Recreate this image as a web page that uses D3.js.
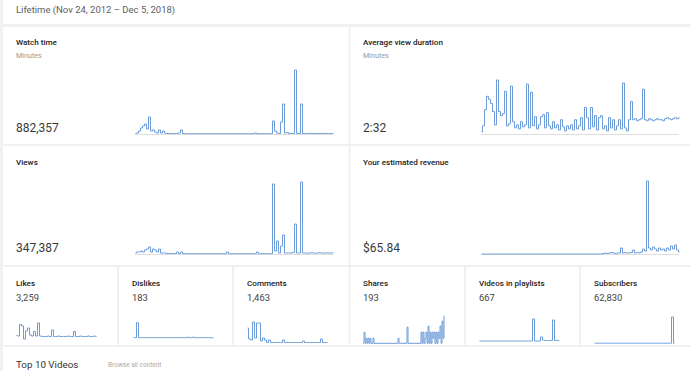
<!DOCTYPE html>
<html><head><meta charset="utf-8">
<script src="https://cdn.jsdelivr.net/npm/d3@7"></script>
<style>
body{margin:0;background:#f1f1f1;overflow:hidden;}
svg{display:block;font-family:Roboto,"Noto Sans",Arial,sans-serif;}
</style></head>
<body><svg id="c" width="690" height="371"></svg>
<script>
// ---------- data ----------
const headerText = "Lifetime (Nov 24, 2012 \u2013 Dec 5, 2018)";
const bigLabels = ["Watch time", "Average view duration", "Views", "Your estimated revenue"];
const bigUnits = ["Minutes", "Minutes", "", ""];
const bigTotals = ["882,357", "2:32", "347,387", "$65.84"];
const smallLabels = ["Likes", "Dislikes", "Comments", "Shares", "Videos in playlists", "Subscribers"];
const smallTotals = ["3,259", "183", "1,463", "193", "667", "62,830"];
const footerTitle = "Top 10 Videos";
const footerLink = "Browse all content";

const watchTime = [0.5,1,3,6,8,10,5,17,3,4, 2,1,4,1,3,1,0.5,0.5,0.5,0.5,
  0.5,0.5,1,4,0.5,0.3,0.3,0.3,0.3,0.3, 0.3,0.3,0.3,0.3,0.3,0.3,0.3,0.3,0.3,0.3,
  0.3,0.3,0.3,0.3,0.3,0.3,0.3,0.3,0.3,0.3, 0.3,0.3,0.3,0.3,0.3,0.3,0.3,0.3,0.3,0.3,
  1,0.3,0.3,0.3,0.3,0.3,0.3,0.3,0.3,13, 3,1,0.5,12,30,1,1.5,0.5,0.5,0.5,
  64,0.5,0.5,30,0.5,0.5,0.6,0.5,0.7,0.5, 0.6,0.5,0.5,0.7,0.5,0.6,0.5,0.5,0.6,0.5];

const avgViewDuration = [2,8,24,37,34,30,22,9,53,22, 18,20,42,8,10,47,12,6,9,5,
  12,7,9,49,6,41,8,17,5,9, 17,19,6,21,8,5,12,6,9,4,
  14,7,3,8,5,9,4,14,5,8, 16,4,26,16,5,26,7,18,4,16,
  18,5,8,3,16,6,14,4,8,14, 5,50,6,3,14,32,14,15,13,14,
  15,44,14,13,15,14,13,14,15,14, 14,13,15,16,15,14,15,16,15,16];

const views = [1,2,2,3,2,4,5,7,2,5, 4,2,5,1,1,1,0.5,0.5,0.5,0.5,
  0.5,2,0.5,2,0.3,0.3,0.3,0.3,0.3,0.3, 0.3,0.3,0.3,0.3,0.3,0.3,0.3,0.3,0.3,0.3,
  0.3,0.3,0.3,0.3,0.3,0.3,2,0.3,0.3,0.3, 0.3,0.3,0.3,0.3,0.3,0.3,0.3,0.3,0.3,0.3,
  0.3,2,0.3,0.3,0.3,0.3,0.3,0.3,0.3,70, 3,13,1,8,19,1,1,1,1,1.5,
  30,1,1,72,1,1,0.8,1,1.2,1, 0.8,1,1.3,1,0.9,1,1.2,1,1,1.1];

const revenue = [0,0,0,0,0,0,0,0,0,0, 0,0,0,0,0,0,0,0,0,0,
  0,0,0,0,0,0,0,0,0,0, 0,0,0,0,0,0,0,0,0,0,
  0,0,0,0,0,0,0,0,0,0, 0,0,0,0,0,0,0,0,0,0,
  0,0.5,1,0.5,1,1.5,1,0.5,1,1, 6,1,1.5,1,1,1.5,4,1,1.5,1,
  2,5,3,73,6,4,7,5,3,6, 4,5,3,6,4,8,5,9,4,2];

const likes = [3.5,3,14.5,13,0,8,11,4,3,7.5, 3,16,3,2.5,2.5,2.5,3,2.5,9,2.5,
  2.5,3,2.5,2.5,2.5,2.5,3,2.5,2.5,7.5, 2.5,2.5,3,2.5,2.5,2.5,3,2.5,2.5,3,2.5];
const dislikes = [1.3,1.3,16,1.3,1.3,1.3,1.3,1.3,1.3,1.3, 1.3,1.3,1.3,1.3,1.3,1.3,1.3,1.3,1.3,1.3,
  1.3,1.3,1.3,1.3,1.3,1.3,1.3,1.8,1.3,1.3, 1.8,1.3,1.3,1.3,1.3,1.3,1.3,1.3,1.3,1.3,1.3];
const comments = [15,4,3,21,5,20,20,2,5,3, 0.5,3,0.5,0.5,0.5,0.5,0.5,0.5,3,0.5,
  0.5,0.5,0.5,0.5,0.5,0.5,0.5,0.5,2,0.5, 0.5,0.5,0.5,0.5,0.5,0.5,0.5,4,0.5,0.5,0.5];
const shares = [0,11,0,5,0,5,0,5,0,0, 5,0,0,0,0,0,0,0,0,0,
  0,0,0,0,0,0,0,0,0,0, 0,0,0,0,0,5,0,0,0,0,
  0,0,0,0,16,0,0,0,0,0, 0,0,0,0,0,0,0,0,11,0,
  11,0,5,11,0,17,0,11,0,11, 5,11,0,11,0,11,5,17,0,22, 5,27];
const playlists = [2,2,2,2,2,2,2,2,2,2, 2,2,2,2,2,2,2,2,2,2,
  2,2,2,2,2,2,2,24,2,2, 2,6,3,2.5,2.5,2.5,2.5,23,2.5,2.5,2.5];
const subscribers = [0.3,0.3,0.3,0.3,0.3,0.3,0.3,0.3,0.3,0.3, 0.3,0.3,0.3,0.3,0.3,0.3,0.3,0.3,0.3,0.3,
  0.3,0.3,0.3,0.3,0.3,0.3,0.3,0.3,0.3,0.3, 0.3,0.3,0.3,0.3,0.3,0.3,0.3,0.3,0.3,26,0.3];

// ---------- layout ----------
const svg = d3.select("#c");
const LINE = "#6e9cd8";
const SEP = "#ededed";

svg.append("rect").attr("x",3).attr("y",0).attr("width",687).attr("height",24).attr("fill","#fff");
svg.append("rect").attr("x",3).attr("y",27).attr("width",687).attr("height",318).attr("fill","#fff");
svg.append("rect").attr("x",3).attr("y",347).attr("width",687).attr("height",24).attr("fill","#fff");

const sep = (x1,y1,x2,y2)=>svg.append("line").attr("x1",x1).attr("y1",y1).attr("x2",x2).attr("y2",y2)
  .attr("stroke",SEP).attr("stroke-width",1.6);
sep(349.5,27,349.5,266);
sep(3,145,690,145);
sep(3,266,690,266);
[118,233,349.5,465,580].forEach(x=>sep(x,266,x,345));

svg.append("text").attr("x",16).attr("y",13).attr("font-size",9.5).attr("fill","#606060").text(headerText);

const bigPos = [
  {lx:16, ly:45, ty:132, x0:135, x1:333, y0:134, y1:70, data:watchTime},
  {lx:363, ly:45, ty:132, x0:481, x1:679, y0:134, y1:80, data:avgViewDuration},
  {lx:16, ly:165, ty:252, x0:135, x1:333, y0:254, y1:182, data:views},
  {lx:363, ly:165, ty:252, x0:481, x1:679, y0:254, y1:181, data:revenue}
];
bigPos.forEach((p,i)=>{
  svg.append("text").attr("x",p.lx).attr("y",p.ly).attr("font-size",8.1).attr("font-weight",500).attr("fill","#222").text(bigLabels[i]);
  if (bigUnits[i]) svg.append("text").attr("x",p.lx).attr("y",p.ly+13).attr("font-size",7.2).attr("fill","#9a9a9a").text(bigUnits[i]);
  svg.append("text").attr("x",p.lx).attr("y",p.ty).attr("font-size",12).attr("fill","#3a3a3a").text(bigTotals[i]);
  const x = d3.scaleLinear().domain([0,p.data.length-1]).range([p.x0,p.x1]);
  const y = d3.scaleLinear().domain([0,d3.max(p.data)]).range([p.y0,p.y1]);
  svg.append("line").attr("x1",p.x0).attr("x2",p.x1).attr("y1",p.y0+0.5).attr("y2",p.y0+0.5).attr("stroke","#dedede").attr("stroke-width",1);
  svg.append("path").datum(p.data).attr("fill","none").attr("stroke",LINE).attr("stroke-width",1)
    .attr("transform","translate(0.5,0)")
    .attr("d",d3.line().curve(d3.curveStep).x((d,j)=>x(j)).y(d=>y(d)));
});

const smallPos = [
  {lx:16, x0:16, x1:96, y0:339, y1:323, data:likes},
  {lx:132, x0:133, x1:213, y0:339, y1:322.7, data:dislikes},
  {lx:247, x0:247, x1:327, y0:343, y1:322, data:comments},
  {lx:363, x0:363, x1:444, y0:343.3, y1:316, data:shares},
  {lx:479, x0:479, x1:559, y0:343, y1:319, data:playlists},
  {lx:594, x0:594, x1:674, y0:343.5, y1:317, data:subscribers}
];
smallPos.forEach((p,i)=>{
  svg.append("text").attr("x",p.lx).attr("y",285.5).attr("font-size",8.1).attr("font-weight",500).attr("fill","#222").text(smallLabels[i]);
  svg.append("text").attr("x",p.lx).attr("y",300.5).attr("font-size",9.4).attr("fill","#444").text(smallTotals[i]);
  const x = d3.scaleLinear().domain([0,p.data.length-1]).range([p.x0,p.x1]);
  const y = d3.scaleLinear().domain([0,d3.max(p.data)]).range([p.y0,p.y1]);
  svg.append("path").datum(p.data).attr("fill","none").attr("stroke",LINE).attr("stroke-width",1)
    .attr("transform","translate(0.5,0)")
    .attr("d",d3.line().curve(d3.curveStep).x((d,j)=>x(j)).y(d=>y(d)));
});

svg.append("text").attr("x",16).attr("y",368).attr("font-size",9.8).attr("fill","#333").text(footerTitle);
svg.append("text").attr("x",108).attr("y",367).attr("font-size",6.5).attr("fill","#aaa").text(footerLink);
</script></body></html>
